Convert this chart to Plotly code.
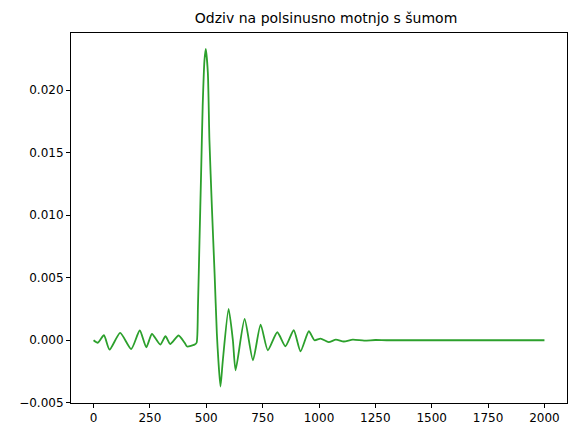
import plotly.graph_objects as go

t = [0, 19, 46, 71, 118, 167, 205, 234, 259, 296, 319, 340, 377, 404, 415, 448, 457,
     463, 470, 477, 484, 492, 498, 507, 514, 525, 537, 547, 554, 563, 573, 599, 618,
     630, 670, 707, 741, 773, 815, 851, 888, 918, 955, 980, 1007, 1043, 1075, 1110,
     1150, 1200, 1250, 1300, 1500, 2000]
odziv = [0.0, -0.0002, 0.0004, -0.00075, 0.00059, -0.0007, 0.00078, -0.00056, 0.0005,
         -0.00035, 0.00032, -0.0003, 0.00038, -0.0002, -0.0005, -0.00035, -0.0002,
         0.0026, 0.008, 0.0133, 0.0187, 0.0224, 0.0233, 0.0214, 0.016, 0.0106, 0.0053,
         0.0005, -0.0017, -0.0037, -0.0017, 0.0025, 0.0, -0.0024, 0.0017, -0.0016,
         0.00125, -0.0008, 0.00064, -0.00048, 0.0008, -0.00088, 0.00072, 0.0, 0.00013,
         -0.00015, 0.00005, -0.0001, 0.00005, -0.00003, 0.00002, 0.0, 0.0, 0.0]

fig = go.Figure()
fig.add_trace(go.Scatter(x=t, y=odziv, mode='lines',
                         line=dict(color='#2ca02c', width=1.8, shape='spline', smoothing=0.6)))

ax = dict(showgrid=False, zeroline=False, showline=True, mirror=True, linecolor='black',
          linewidth=1, ticks='outside', ticklen=4, tickcolor='black', automargin=False)
fig.update_layout(
    width=568, height=428, template='none', showlegend=False,
    paper_bgcolor='white', plot_bgcolor='white',
    margin=dict(l=63, r=9, t=25, b=33, pad=0),
    font=dict(family='DejaVu Sans', size=12, color='black'),
    title=dict(text='Odziv na polsinusno motnjo s šumom', x=0.56, xanchor='center',
               y=0.977, yanchor='middle', font=dict(size=14)),
    xaxis=dict(ax, range=[-100, 2100], tickvals=[0, 250, 500, 750, 1000, 1250, 1500, 1750, 2000]),
    yaxis=dict(ax, range=[-0.00502, 0.02458], tickformat='.3f',
               tickvals=[-0.005, 0, 0.005, 0.01, 0.015, 0.02]),
)
fig.write_html("out.html")
